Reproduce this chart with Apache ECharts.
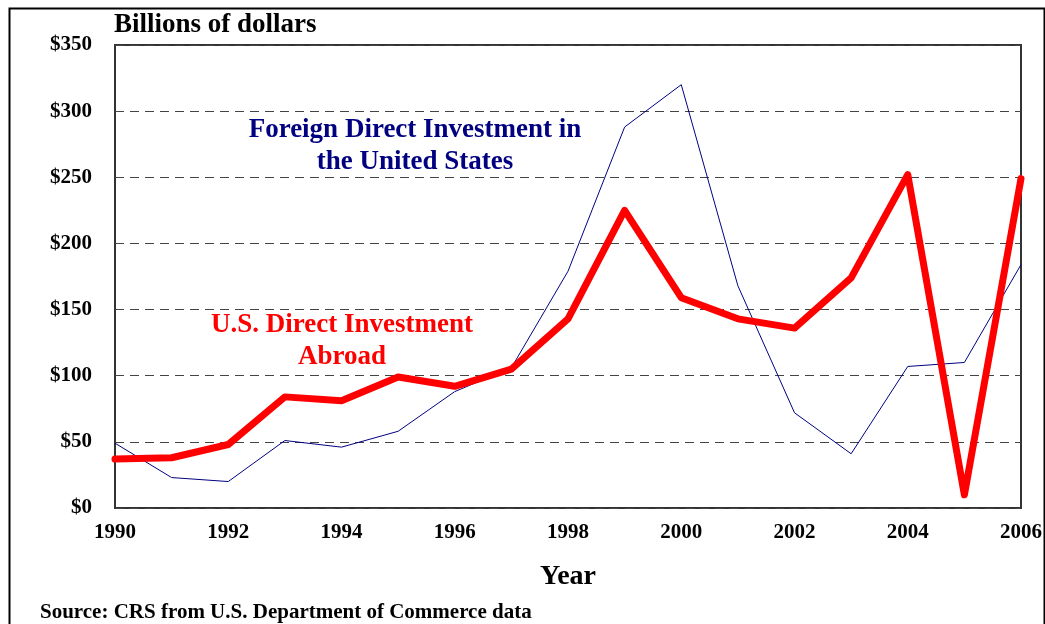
<!DOCTYPE html>
<html>
<head>
<meta charset="utf-8">
<script src="https://cdn.jsdelivr.net/npm/echarts@6/dist/echarts.min.js"></script>
<style>
  html, body { margin:0; padding:0; background:#fff; }
  #main { width:1045px; height:624px; }
</style>
</head>
<body>
<div id="main"></div>
<script>
// years and values (billions of dollars)
var years = [1990,1991,1992,1993,1994,1995,1996,1997,1998,1999,2000,2001,2002,2003,2004,2005,2006];
var usAbroad = [37,38,48,84,81,99,92,105,143,225,159,143,136,174,252,10,249];
var fdiInUS = [49,23,20,51,46,58,88,106,179,288,320,168,72,41,107,110,184];

function pairs(vals) {
  var out = [];
  for (var i = 0; i < years.length; i++) out.push([years[i], vals[i]]);
  return out;
}

var serif = '"Liberation Serif", "Times New Roman", serif';
var chart = echarts.init(document.getElementById('main'));
var option = {
  animation: false,
  grid: { left: 115, right: 24, top: 45, bottom: 116, show: true, borderColor: '#333', borderWidth: 2 },
  graphic: [
    { type: 'rect', left: 7, top: 6, shape: { width: 1035, height: 640 }, style: { fill: 'none', stroke: '#000', lineWidth: 2 } },
    { type: 'text', x: 114, y: 25, style: { text: 'Billions of dollars', font: 'bold 27px ' + serif, fill: '#000', verticalAlign: 'middle' } },
    { type: 'text', x: 568, y: 577, style: { text: 'Year', font: 'bold 28px ' + serif, fill: '#000', align: 'center', verticalAlign: 'middle' } },
    { type: 'text', x: 40, y: 613, style: { text: 'Source: CRS from U.S. Department of Commerce data', font: 'bold 21px ' + serif, fill: '#000', verticalAlign: 'middle' } },
    { type: 'text', x: 415, y: 146, style: { text: 'Foreign Direct Investment in\nthe United States', font: 'bold 27px ' + serif, fill: '#000080', align: 'center', verticalAlign: 'middle', lineHeight: 32 } },
    { type: 'text', x: 342, y: 341, style: { text: 'U.S. Direct Investment\nAbroad', font: 'bold 27px ' + serif, fill: '#ff0000', align: 'center', verticalAlign: 'middle', lineHeight: 32 } }
  ],
  xAxis: {
    type: 'value', min: 1990, max: 2006, interval: 2,
    axisLine: { show: false },
    axisTick: { show: false },
    splitLine: { show: false },
    axisLabel: { margin: 14, color: '#000', fontFamily: serif, fontWeight: 'bold', fontSize: 21, formatter: function (v) { return String(v); } }
  },
  yAxis: {
    type: 'value', min: 0, max: 350, interval: 50,
    axisLine: { show: false },
    axisTick: { show: false },
    splitLine: { lineStyle: { color: '#444', type: [9, 6], width: 1.2 } },
    axisLabel: { margin: 23, color: '#000', fontFamily: serif, fontWeight: 'bold', fontSize: 21, formatter: '${value}' }
  },
  series: [
    { name: 'FDI in US', type: 'line', data: pairs(fdiInUS), symbol: 'none', lineStyle: { color: '#000080', width: 1 }, z: 2 },
    { name: 'US abroad', type: 'line', data: pairs(usAbroad), symbol: 'none', lineStyle: { color: '#ff0000', width: 7, join: 'round', cap: 'round' }, z: 3 }
  ]
};
chart.setOption(option);
</script>
</body>
</html>
